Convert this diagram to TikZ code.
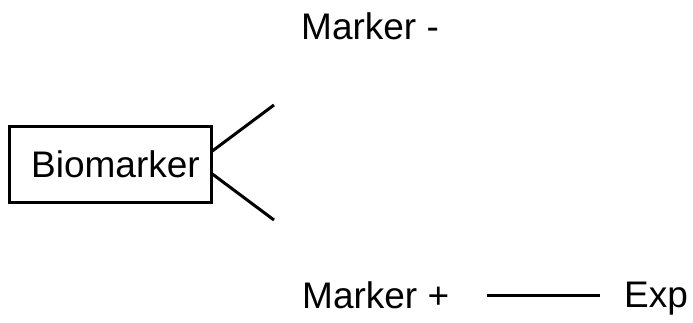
\documentclass[tikz,border=0pt]{standalone}
\usepackage{fontspec}
\setmainfont{Liberation Sans}
\begin{document}
\begin{tikzpicture}[x=1pt,y=-1pt,
  lbl/.style={inner sep=0pt,anchor=base west,font=\fontsize{37}{44}\selectfont},
  boxed/.style={draw,line width=3pt,minimum width=202pt,minimum height=76pt,inner sep=0pt},
  link/.style={line width=3pt}]
  \useasboundingbox (0,0) rectangle (693,323);
  % main box
  \node[boxed] (bio) at (110,165) {};
  \node[lbl] (biot) at (31,178) {Biomarker};
  % branch labels
  \node[lbl] (mminus) at (301,40) {Marker -};
  \node[lbl] (mplus) at (302,308) {Marker +};
  \node[lbl] (exp) at (624,307) {Exp};
  % branch ends
  \coordinate (upend) at (274,105);
  \coordinate (lowend) at (274,220);
  \coordinate (upstart) at (211,152);
  \coordinate (lowstart) at (211,173);
  \coordinate (ea) at (487,295);
  \coordinate (eb) at (600,295);
  \draw[link] (upstart) -- (upend);
  \draw[link] (lowstart) -- (lowend);
  \draw[link] (ea) -- (eb);
\end{tikzpicture}
\end{document}
